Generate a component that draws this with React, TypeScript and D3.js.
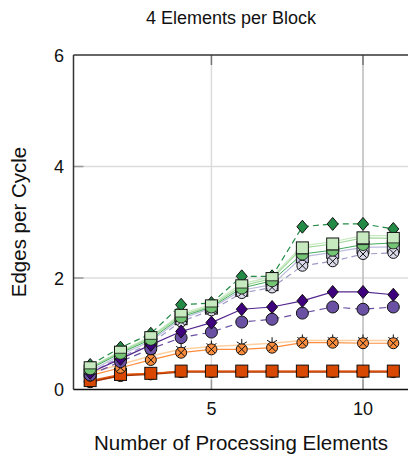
import React from 'react';
import * as d3 from 'd3';

// processing element counts
const pes = [1, 2, 3, 4, 5, 6, 7, 8, 9, 10, 11];
const yTicks = [0, 2, 4, 6];
const xTicks = [5, 10];

// edges per cycle
const brownCircle = [0.14, 0.25, 0.28, 0.32, 0.32, 0.32, 0.32, 0.32, 0.32, 0.32, 0.32];
const orangeSquare = [0.16, 0.27, 0.29, 0.33, 0.33, 0.33, 0.33, 0.33, 0.33, 0.33, 0.33];
const orangeCross = [0.25, 0.39, 0.53, 0.66, 0.72, 0.72, 0.75, 0.84, 0.84, 0.83, 0.83];
const orangeStar = [0.3, 0.45, 0.6, 0.72, 0.77, 0.8, 0.83, 0.88, 0.88, 0.88, 0.88];
const purpleDiamond = [0.3, 0.55, 0.8, 1.04, 1.2, 1.44, 1.48, 1.59, 1.75, 1.75, 1.7];
const purpleCircle = [0.26, 0.5, 0.73, 0.93, 1.03, 1.21, 1.26, 1.37, 1.48, 1.44, 1.48];
const lavenderCross = [0.3, 0.58, 0.83, 1.22, 1.42, 1.73, 1.83, 2.22, 2.3, 2.43, 2.45];
const lavenderSquare = [0.33, 0.62, 0.87, 1.27, 1.46, 1.78, 1.88, 2.38, 2.46, 2.55, 2.56];
const greenDiamond = [0.44, 0.75, 1.0, 1.52, 1.55, 2.03, 2.03, 2.92, 2.97, 2.97, 2.88];
const midGreen = [0.37, 0.65, 0.9, 1.3, 1.48, 1.82, 1.95, 2.43, 2.5, 2.6, 2.63];
const paleGreen = [0.4, 0.69, 0.95, 1.36, 1.53, 1.9, 2.02, 2.58, 2.65, 2.76, 2.76];
const lightGreenSquare = [0.39, 0.67, 0.93, 1.33, 1.5, 1.86, 1.99, 2.54, 2.61, 2.72, 2.71];

const W = 408;
const H = 455;
const x = d3.scaleLinear().domain([0.45, 11.55]).range([73.5, 410]);
const y = d3.scaleLinear().domain([0, 6]).range([389.5, 55]);
const font = 'Liberation Sans, Arial, Helvetica, sans-serif';

type Marker = 'square' | 'circle' | 'diamond' | 'cross' | 'star' | 'half' | 'none';
interface Series {
  vals: number[];
  line: string;
  width: number;
  dash?: string;
  marker: Marker;
  fill: string;
}

const series: Series[] = [
  { vals: brownCircle, line: '#a63603', width: 2, marker: 'circle', fill: '#7f2704' },
  { vals: orangeSquare, line: '#e6550d', width: 1.2, marker: 'square', fill: '#d94801' },
  { vals: orangeStar, line: '#fdd0a2', width: 1.5, marker: 'star', fill: '#000' },
  { vals: orangeCross, line: '#fd8d3c', width: 1.2, marker: 'cross', fill: '#fd8d3c' },
  { vals: lavenderSquare, line: '#bcbddc', width: 1.2, marker: 'square', fill: '#bcbddc' },
  { vals: lavenderCross, line: '#9e9ac8', width: 1.2, dash: '6,4', marker: 'cross', fill: '#dadaeb' },
  { vals: purpleCircle, line: '#6a51a3', width: 1.2, dash: '7,5', marker: 'circle', fill: '#6a51a3' },
  { vals: purpleDiamond, line: '#54278f', width: 1.2, marker: 'diamond', fill: '#3f007d' },
  { vals: greenDiamond, line: '#238b45', width: 1.2, dash: '6,4', marker: 'diamond', fill: '#238b45' },
  { vals: paleGreen, line: '#c7e9c0', width: 1.2, marker: 'none', fill: 'none' },
  { vals: lightGreenSquare, line: '#a1d99b', width: 1.2, marker: 'square', fill: '#c7e9c0' },
  { vals: midGreen, line: '#41ab5d', width: 1, marker: 'half', fill: '#74c476' },
];

const drawMarker = (m: Marker, fill: string, key: string, cx: number, cy: number) => {
  const st = { stroke: '#111', strokeWidth: 1 };
  switch (m) {
    case 'square':
      return <rect key={key} x={cx - 6} y={cy - 6} width={12} height={12} fill={fill} {...st} />;
    case 'circle':
      return <circle key={key} cx={cx} cy={cy} r={6} fill={fill} {...st} />;
    case 'diamond':
      return (
        <path key={key} d={`M${cx},${cy - 6.5}L${cx + 5.5},${cy}L${cx},${cy + 6.5}L${cx - 5.5},${cy}Z`} fill={fill} {...st} />
      );
    case 'cross':
      return (
        <g key={key}>
          <circle cx={cx} cy={cy} r={5.5} fill={fill} {...st} />
          <path d={`M${cx - 3.5},${cy - 3.5}L${cx + 3.5},${cy + 3.5}M${cx - 3.5},${cy + 3.5}L${cx + 3.5},${cy - 3.5}`} stroke="#111" strokeWidth={1} />
        </g>
      );
    case 'star':
      return (
        <path
          key={key}
          d={`M${cx},${cy - 6}L${cx},${cy + 4}M${cx - 5},${cy - 3}L${cx + 5},${cy + 3}M${cx - 5},${cy + 3}L${cx + 5},${cy - 3}`}
          stroke="#111"
          strokeWidth={1}
        />
      );
    case 'half':
      return (
        <g key={key}>
          <path d={`M${cx - 6},${cy}A6,6 0 0 0 ${cx + 6},${cy}Z`} fill={fill} stroke="#111" strokeWidth={0.8} />
        </g>
      );
    default:
      return null;
  }
};

export default function App() {
  const line = d3
    .line<number>()
    .x((_, i) => x(pes[i]))
    .y((d) => y(d));

  const [x0, x1] = x.range();
  const [yb, yt] = y.range();

  return (
    <svg width={W} height={H} style={{ position: 'absolute', left: 0, top: 0 }} fontFamily={font}>
      <rect width={W} height={H} fill="#fff" />
      <defs>
        <clipPath id="plot">
          <rect x={x0} y={yt - 8} width={x1 - x0} height={yb - yt + 16} />
        </clipPath>
      </defs>

      <text x={231} y={24} textAnchor="middle" fontSize={18} fill="#111">
        4 Elements per Block
      </text>

      {/* grid */}
      {yTicks
        .filter((t) => t > 0 && t < 6)
        .map((t) => (
          <line key={`gy${t}`} x1={x0} x2={x1} y1={y(t)} y2={y(t)} stroke="#dcdcdc" strokeWidth={1.5} />
        ))}
      {xTicks.map((t) => (
        <line key={`gx${t}`} x1={x(t)} x2={x(t)} y1={yt} y2={yb} stroke={t === 10 ? '#bbb' : '#dcdcdc'} strokeWidth={1.5} />
      ))}
      {/* inner ticks */}
      {yTicks
        .filter((t) => t > 0 && t < 6)
        .map((t) => (
          <line key={`ty${t}`} x1={x0} x2={x0 + 10} y1={y(t)} y2={y(t)} stroke="#999" strokeWidth={1.5} />
        ))}
      {xTicks.map((t) => (
        <g key={`tx${t}`}>
          <line x1={x(t)} x2={x(t)} y1={yb} y2={yb - 10} stroke="#999" strokeWidth={1.5} />
          <line x1={x(t)} x2={x(t)} y1={yt} y2={yt + 10} stroke="#777" strokeWidth={1.5} />
        </g>
      ))}

      {/* series */}
      <g clipPath="url(#plot)">
        {series.map((s, i) => (
          <path
            key={`l${i}`}
            d={line(s.vals) ?? ''}
            fill="none"
            stroke={s.line}
            strokeWidth={s.width}
            strokeDasharray={s.dash}
          />
        ))}
        {series.map((s, i) => (
          <g key={`m${i}`}>{s.vals.map((v, j) => drawMarker(s.marker, s.fill, `${i}-${j}`, x(pes[j]), y(v)))}</g>
        ))}
      </g>

      {/* frame */}
      <line x1={x0} x2={x1} y1={yt} y2={yt} stroke="#333" strokeWidth={1.5} />
      <line x1={x0} x2={x0} y1={yt} y2={yb} stroke="#333" strokeWidth={1.5} />
      <line x1={x0} x2={x1} y1={yb} y2={yb} stroke="#111" strokeWidth={1.5} />

      {/* tick labels */}
      {yTicks.map((t) => (
        <text key={`yl${t}`} x={64} y={y(t) + 6.5} textAnchor="end" fontSize={18} fill="#111">
          {t}
        </text>
      ))}
      {xTicks.map((t) => (
        <text key={`xl${t}`} x={x(t)} y={415} textAnchor="middle" fontSize={18} fill="#111">
          {t}
        </text>
      ))}

      <text x={241} y={450} textAnchor="middle" fontSize={20.5} fill="#111">
        Number of Processing Elements
      </text>
      <text transform="translate(26,222) rotate(-90)" textAnchor="middle" fontSize={20.5} fill="#111">
        Edges per Cycle
      </text>
    </svg>
  );
}
